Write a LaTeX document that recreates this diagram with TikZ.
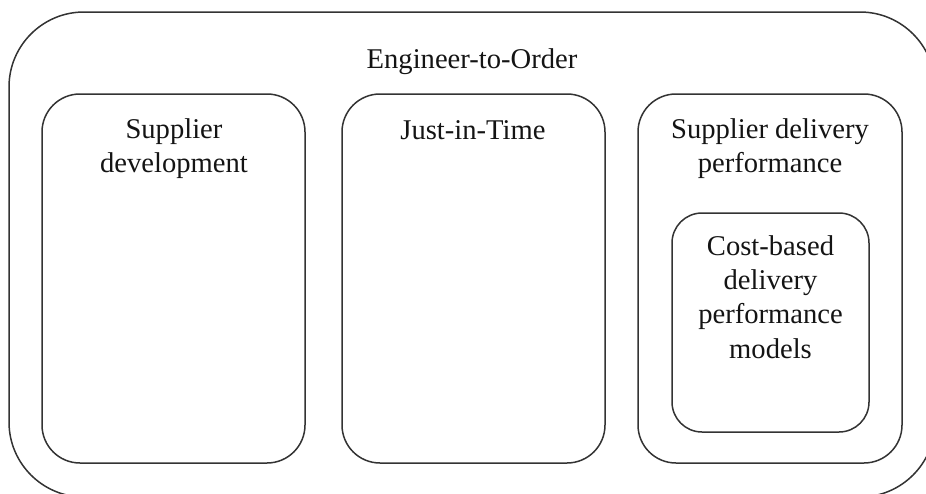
\documentclass[tikz,border=0pt]{standalone}
\usepackage{fontspec}
\setmainfont{Liberation Serif}
\newcommand{\boxtext}[1]{\parbox[t]{250pt}{\centering #1}}
\begin{document}
\begin{tikzpicture}[x=1pt,y=-1pt,
  frame/.style={draw=black!80, line width=1.5pt, inner sep=0pt, rectangle},
  label/.style={anchor=base, inner sep=0pt, text=black!92,
    font=\fontsize{28.6}{34.4}\selectfont}]
\useasboundingbox (0,0) rectangle (926,493);
\clip (0,0) rectangle (926,493);

% outer domain frame (runs past the right and bottom edges)
\node[frame, rounded corners=75pt, minimum width=926pt, minimum height=485pt] (eto) at (472,254.5) {};
\node[label] (etolbl) at (472,68) {\boxtext{Engineer-to-Order}};

% three research areas
\node[frame, rounded corners=38pt, minimum width=263pt, minimum height=369pt] (sd) at (173.5,278.5) {};
\node[frame, rounded corners=38pt, minimum width=263pt, minimum height=369pt] (jit) at (473.5,278.5) {};
\node[frame, rounded corners=38pt, minimum width=264pt, minimum height=369pt] (sdp) at (770,278.5) {};

\node[label] (sdlbl) at (174,138) {\boxtext{Supplier\\development}};
\node[label] (jitlbl) at (473,139) {\boxtext{Just-in-Time}};
\node[label] (sdplbl) at (770,138) {\boxtext{Supplier delivery\\performance}};

% nested sub-area
\node[frame, rounded corners=30pt, minimum width=197pt, minimum height=219pt] (cbm) at (770.5,322.5) {};
\node[label] (cbmlbl) at (770.5,255) {\boxtext{Cost-based\\delivery\\performance\\models}};
\end{tikzpicture}
\end{document}
